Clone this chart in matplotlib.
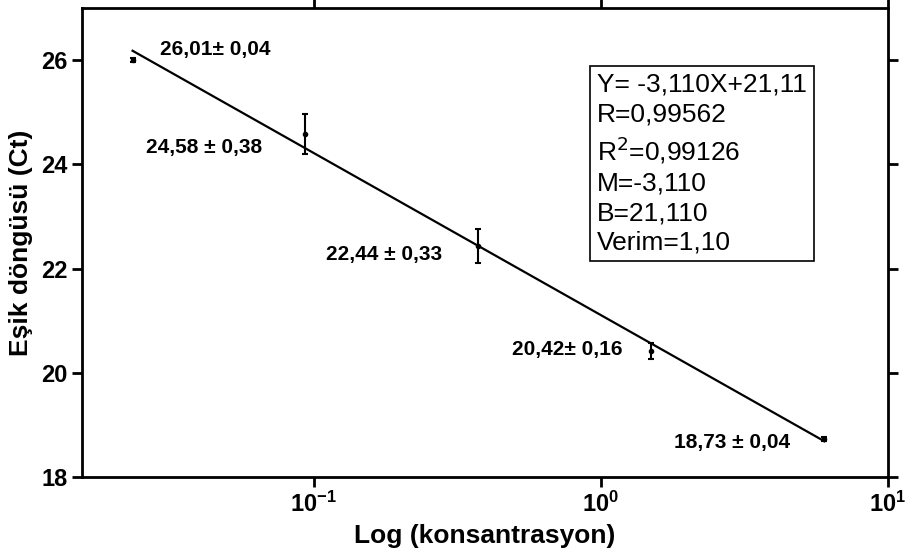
import numpy as np
import matplotlib
matplotlib.use('Agg')
import matplotlib.pyplot as plt
from matplotlib.ticker import LogLocator, NullLocator

plt.rcParams['font.family'] = ['Liberation Sans', 'DejaVu Sans']
plt.rcParams['axes.unicode_minus'] = False

# concentration (dilution series) and threshold cycle values
conc = [0.0234375, 0.09375, 0.375, 1.5, 6.0]
ct_mean = [26.01, 24.58, 22.44, 20.42, 18.73]
ct_sd = [0.04, 0.38, 0.33, 0.16, 0.04]
labels = ['26,01\u00b1 0,04', '24,58 \u00b1 0,38', '22,44 \u00b1 0,33',
          '20,42\u00b1 0,16', '18,73 \u00b1 0,04']
# label offsets in pixels (dx, dy, alignment)
label_pos = [(27, 10, 'left'), (-43, -13, 'right'), (-36, -9, 'right'),
             (-29, 2, 'right'), (-34, -3, 'right')]

slope = -3.110
intercept = 21.11
stats_lines = ['Y= -3,110X+21,11', 'R=0,99562', 'R$^2$=0,99126',
               'M=-3,110', 'B=21,110', 'Verim=1,10']

fig = plt.figure(figsize=(9.09, 5.51), dpi=100)
ax = fig.add_axes([0.0902, 0.134, 0.8867, 0.8515])

ax.errorbar(conc, ct_mean, yerr=ct_sd, fmt='o', color='black', ms=3,
            elinewidth=1.5, capsize=2.2, capthick=1.5)

xfit = np.array([conc[0], conc[-1]])
ax.plot(xfit, slope * np.log10(xfit) + intercept, color='black', lw=1.6)

for (x, y, lab, (dx, dy, ha)) in zip(conc, ct_mean, labels, label_pos):
    ax.annotate(lab, (x, y), xytext=(dx, dy), textcoords='offset pixels',
                ha=ha, va='center', fontsize=15, fontweight='bold')

ax.text(0.639, 0.862, '\n'.join(stats_lines), transform=ax.transAxes,
        ha='left', va='top', fontsize=19, linespacing=1.3,
        bbox=dict(boxstyle='square,pad=0.25', fc='white', ec='black', lw=1.2))

ax.set_xscale('log')
ax.set_xlim(1 / 64, 10)
ax.set_ylim(18, 27)
ax.xaxis.set_major_locator(LogLocator(base=10, numticks=10))
ax.xaxis.set_minor_locator(NullLocator())
ax.set_yticks([18, 20, 22, 24, 26])

ax.tick_params(axis='both', which='major', direction='out', length=7,
               width=2, labelsize=17, top=True, right=True)
for lab in ax.get_xticklabels() + ax.get_yticklabels():
    lab.set_fontweight('bold')
for sp in ax.spines.values():
    sp.set_linewidth(2)

ax.set_xlabel('Log (konsantrasyon)', fontsize=19, fontweight='bold', labelpad=5)
ax.set_ylabel('Eşik döngüsü (Ct)', fontsize=19, fontweight='bold', labelpad=6)

fig.savefig('out.png', dpi=100)
